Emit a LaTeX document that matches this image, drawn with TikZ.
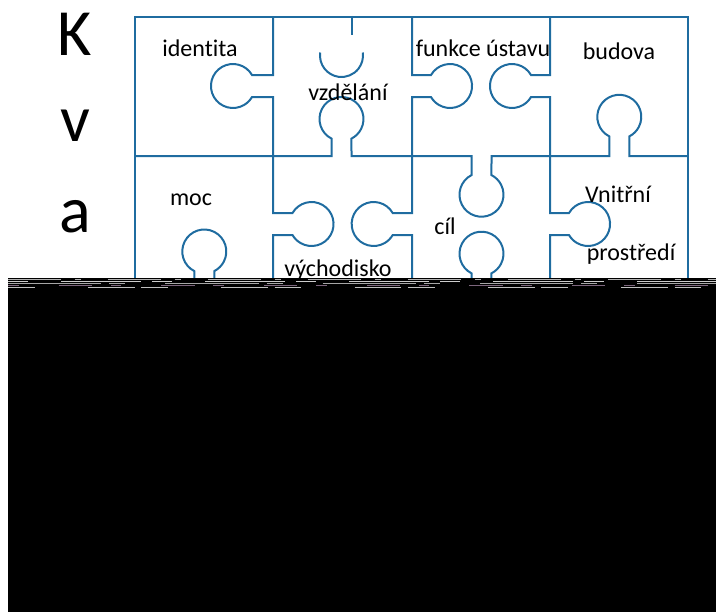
\documentclass[tikz,border=0pt]{standalone}
\usepackage{fontspec}
\setmainfont{Carlito}[Ligatures=NoCommon]
\definecolor{pz}{RGB}{31,108,160}
\begin{document}
\begin{tikzpicture}[x=0.75pt,y=0.75pt,
  edge/.style={draw=pz,line width=1.5pt,line join=miter},
  lbl/.style={font=\fontsize{18}{21.6}\selectfont,inner sep=0pt,anchor=base},
  big/.style={font=\fontsize{49.5}{60}\selectfont,inner sep=0pt},
  noise/.style={line width=0.6pt}]
\useasboundingbox (0,0) rectangle (716,612);
% outer frame
\draw[edge] (135,322) -- (135,595) -- (688,595) -- (688,322);
% artefact at top of vzdělání
\draw[edge] (352,596) -- (352,577);
\draw[edge] (320.2,559.5) arc[start angle=172,end angle=368,radius=21.5];
% row 1 verticals
\draw[edge] (273,595) -- (273,537) -- (252,537) arc[start angle=30,end angle=330,radius=22] -- (273,515) -- (273,456);
\draw[edge] (412,595) -- (412,537) -- (431,537) arc[start angle=150,end angle=-150,radius=22] -- (412,515) -- (412,456);
\draw[edge] (550,595) -- (550,537) -- (531,537) arc[start angle=30,end angle=330,radius=22] -- (550,515) -- (550,456);
% middle horizontal
\draw[edge] (135,456) -- (331.5,456) -- (331.5,473.4) arc[start angle=243,end angle=-63,radius=22] -- (351.5,456) -- (471.5,456) -- (471.5,436.9) arc[start angle=117,end angle=423,radius=22] -- (491.5,456) -- (609.3,456) -- (609.3,475.6) arc[start angle=243,end angle=-63,radius=22] -- (629.3,456) -- (688,456);
% row 2 verticals
\draw[edge] (273,456) -- (273,399) -- (292.5,399) arc[start angle=150,end angle=-150,radius=22] -- (273,377) -- (273,322);
\draw[edge] (412,456) -- (412,399) -- (392.7,399) arc[start angle=30,end angle=330,radius=22] -- (412,377) -- (412,322);
\draw[edge] (550,456) -- (550,399) -- (569,399) arc[start angle=150,end angle=-150,radius=22] -- (550,377) -- (550,322);
% row 2 bottom tabs
\draw[edge] (194.3,322) -- (194.3,340.9) arc[start angle=243,end angle=-63,radius=22] -- (214.3,322);
\draw[edge] (471.5,322) -- (471.5,338.7) arc[start angle=243,end angle=-63,radius=22] -- (491.5,322);
% letters
\node[big] (K) at (75,578) {K};
\node[big] (v) at (75,486) {v};
\node[big] (a) at (75,395.5) {a};
% labels
\node[lbl] (identita) at (200,556) {identita};
\node[lbl] (vzdelani) at (348,512) {vzdělání};
\node[lbl] (funkce) at (483,555.5) {funkce ústavu};
\node[lbl] (budova) at (619,552) {budova};
\node[lbl] (moc) at (191,407) {moc};
\node[lbl] (vychodisko) at (338,336) {východisko};
\node[lbl] (cil) at (445,378) {cíl};
\node[lbl] (vnitrni) at (618,410) {Vnitřní};
\node[lbl] (prostredi) at (631,352) {prostředí};
% black block with noisy top band
\fill[black] (8,0) rectangle (716,334);
\draw[noise,black!30,dash pattern=on 40pt off 10pt on 5pt off 20pt] (8,332.5) -- (716,332.5);
\draw[noise,black!20,dash pattern=on 15pt off 25pt on 60pt off 8pt] (8,330.5) -- (716,330.5);
\draw[noise,black!35,dash pattern=on 70pt off 6pt on 12pt off 30pt] (8,328.5) -- (716,328.5);
\draw[noise,violet!30!black!60,dash pattern=on 8pt off 30pt on 25pt off 14pt] (8,326.5) -- (716,326.5);
\draw[noise,black!25,dash pattern=on 20pt off 40pt on 35pt off 5pt] (8,324.5) -- (716,324.5);
\end{tikzpicture}
\end{document}
